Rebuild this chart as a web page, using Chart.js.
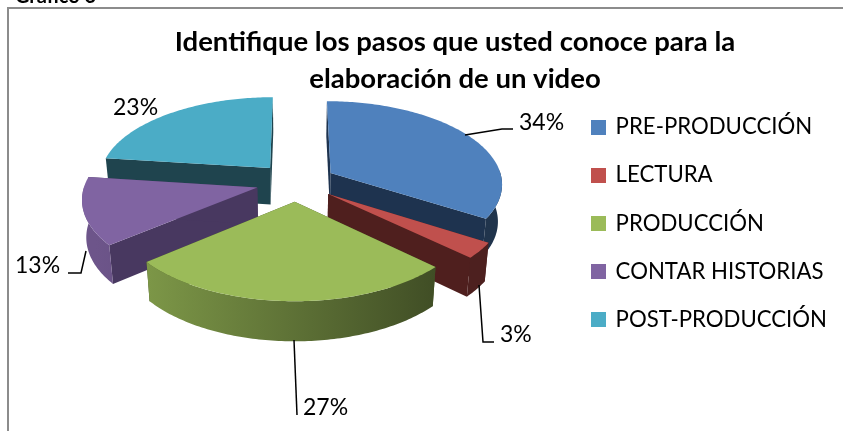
<!DOCTYPE html>
<html><head><meta charset="utf-8">
<script src="https://cdn.jsdelivr.net/npm/chart.js@4"></script>
<style>html,body{margin:0;padding:0;background:#fff}canvas{display:block}</style>
</head><body><canvas id="c" width="843" height="431"></canvas>
<script>
const categories = ["PRE-PRODUCCIÓN","LECTURA","PRODUCCIÓN","CONTAR HISTORIAS","POST-PRODUCCIÓN"];
const values = [34,3,27,13,23];
const topColors = ["#4f81bd","#c0504d","#9bbb59","#8064a2","#4bacc6"];
const wallColors = ["#1e334f","#4f1f1e","#414f22","#483860","#1f444e"];
const titleLines = ["Identifique los pasos que usted conoce para la","elaboración de un video"];
const captionText = "Gráfico 6";

const FONT = "Lato, Carlito, Calibri, sans-serif";
// view of the pie: tilted disc with perspective
const view = {cx:296, cy:182, tilt:0.479, persp:0.0007, radius:172, explode:40, depth:37, taper:0.02};
const paintOrder = [4,0,3,1,2];
const labelPlaces = [
 {x:519,y:123,line:[[465,135],[502,129],[513,129]]},
 {x:500,y:335,line:[[479,285],[483,342],[494,342]]},
 {x:303,y:408,line:[[294,340],[297,415]]},
 {x:15,y:266,line:[[86,251],[81,273],[68,273]]},
 {x:113,y:108,line:null}
];
function project(X,Y){const s=1/(1-view.persp*Y);return {x:view.cx+X*s,y:view.cy+view.tilt*Y*s,s};}
function ground(a,r,mid){ // chart.js angle: 0 = +x, clockwise on screen
  return {X:Math.cos(mid)*view.explode+Math.cos(a)*r, Y:Math.sin(mid)*view.explode+Math.sin(a)*r};
}
function pt(a,r,mid,drop){const g=ground(a,r,mid);const p=project(g.X,g.Y);
  return drop?{x:view.cx+(p.x-view.cx)*(1-view.taper),y:p.y+view.depth*Math.sqrt(p.s)}:{x:p.x,y:p.y};}
function shade(hex,f){const n=parseInt(hex.slice(1),16);
  return `rgb(${Math.round((n>>16)*f)},${Math.round(((n>>8)&255)*f)},${Math.round((n&255)*f)})`;}
function poly(ctx,pts,fill){ctx.beginPath();pts.forEach((p,i)=>i?ctx.lineTo(p.x,p.y):ctx.moveTo(p.x,p.y));ctx.closePath();ctx.fillStyle=fill;ctx.fill();}
function swatch(color){const c=document.createElement('canvas');c.width=15;c.height=15;
  const x=c.getContext('2d');x.fillStyle=color;x.fillRect(0,0,15,15);return c;}

const pie3d = {
  id:'pie3d',
  beforeDraw(chart){
    const ctx=chart.ctx;ctx.save();
    ctx.fillStyle='#fff';ctx.fillRect(0,0,chart.width,chart.height);
    ctx.fillStyle='#8c8c8c';ctx.fillRect(7,7,836,2);ctx.fillRect(7,7,2,424);
    ctx.fillStyle='#000';ctx.font='bold 20px '+FONT;ctx.textBaseline='alphabetic';ctx.textAlign='left';
    ctx.fillText(captionText,15,3);
    ctx.restore();
  },
  beforeDatasetDraw(chart){
    const ctx=chart.ctx, arcs=chart.getDatasetMeta(0).data;
    ctx.save();
    paintOrder.forEach(i=>{
      const a=arcs[i], s=a.startAngle, e=a.endAngle, mid=(s+e)/2, R=view.radius;
      const N=Math.max(6,Math.round((e-s)*60));
      const angles=[];for(let k=0;k<=N;k++)angles.push(s+(e-s)*k/N);
      const top=angles.map(t=>pt(t,R,mid,false)), bot=angles.map(t=>pt(t,R,mid,true));
      const apexT=pt(0,0,mid,false), apexB=pt(0,0,mid,true);
      // radial walls
      poly(ctx,[apexT,top[0],bot[0],apexB],wallColors[i]);
      poly(ctx,[apexT,top[N],bot[N],apexB],wallColors[i]);
      // curved outer wall, only the part that faces the viewer, lit from the left
      const g=ctx.createLinearGradient(view.cx-200,0,view.cx+150,0);
      g.addColorStop(0,shade(topColors[i],0.85));
      g.addColorStop(0.15,shade(topColors[i],0.8));
      g.addColorStop(1,shade(topColors[i],0.4));
      const front=angles.map((t,k)=>k).filter(k=>Math.sin(angles[k])>-0.04);
      if(front.length>1){
        poly(ctx,front.map(k=>top[k]).concat(front.map(k=>bot[k]).reverse()),g);
      }
      // top face
      poly(ctx,[apexT].concat(top),topColors[i]);
    });
    ctx.restore();
    // leader lines and value labels
    const total=values.reduce((p,v)=>p+v,0);
    ctx.save();ctx.strokeStyle='#000';ctx.lineWidth=1.5;
    ctx.font='23px '+FONT;ctx.fillStyle='#000';ctx.textBaseline='middle';ctx.textAlign='left';
    labelPlaces.forEach((l,i)=>{
      if(l.line){ctx.beginPath();l.line.forEach((p,k)=>k?ctx.lineTo(p[0],p[1]):ctx.moveTo(p[0],p[1]));ctx.stroke();}
      ctx.fillText(Math.round(values[i]/total*100)+'%',l.x,l.y);
    });
    ctx.restore();
    return false;
  }
};

new Chart(document.getElementById('c'),{
  type:'pie',
  data:{labels:categories,datasets:[{data:values,backgroundColor:topColors,borderWidth:0}]},
  plugins:[pie3d],
  options:{
    responsive:false,animation:false,
    layout:{padding:{left:73,right:6,top:16,bottom:0}},
    plugins:{
      tooltip:{enabled:false},
      title:{display:true,text:titleLines,color:'#000',
        font:{family:FONT,size:27.5,weight:'bold',lineHeight:1.345},padding:{top:7.5,bottom:4}},
      legend:{position:'right',
        labels:{color:'#000',font:{family:FONT,size:22.2},boxWidth:12,boxHeight:15,padding:26,
          usePointStyle:true,pointStyleWidth:12,
          generateLabels(chart){
            return Chart.overrides.pie.plugins.legend.labels.generateLabels(chart)
              .map((it,i)=>Object.assign(it,{pointStyle:swatch(topColors[i])}));
          }}}
    }
  }
});
</script></body></html>
